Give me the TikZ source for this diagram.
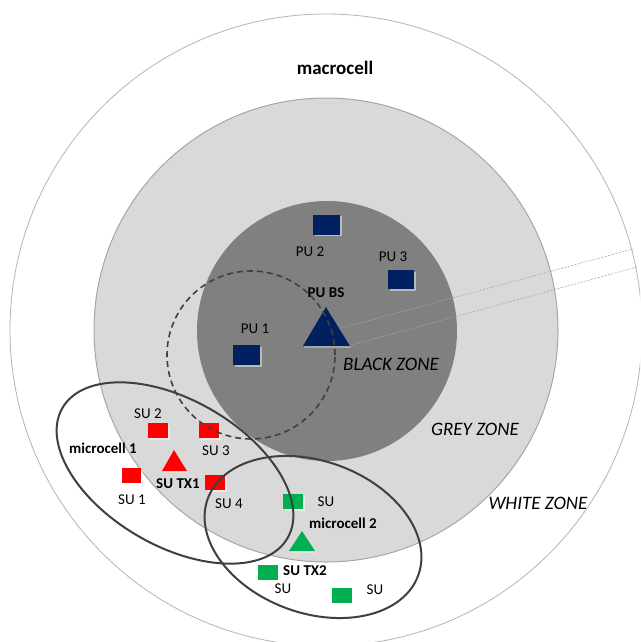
\documentclass[tikz,border=0pt]{standalone}
\usepackage{fontspec}
\setmainfont{Carlito}
\usetikzlibrary{shadows}
\definecolor{navy}{HTML}{002060}
\definecolor{sured}{HTML}{FF0000}
\definecolor{sugreen}{HTML}{00B050}
\definecolor{blackzone}{HTML}{808080}
\definecolor{greyzone}{HTML}{D9D9D9}
\definecolor{greyline}{HTML}{A6A6A6}
\definecolor{outerline}{HTML}{B4B4B4}
\definecolor{ellline}{HTML}{404040}
\begin{document}
\begin{tikzpicture}[x=1pt,y=-1pt,
  lbl/.style={font=\fontsize{15}{18}\selectfont, inner sep=0pt, text=black},
  blbl/.style={font=\fontsize{15}{18}\selectfont\bfseries, inner sep=0pt, text=black},
  ilbl/.style={font=\fontsize{19}{22}\selectfont\itshape, inner sep=0pt, text=black},
  tlbl/.style={font=\fontsize{19}{22}\selectfont\bfseries, inner sep=0pt, text=black},
  sqr/.style={rectangle, inner sep=0pt, draw=none, drop shadow={shadow xshift=1.5pt, shadow yshift=-1.5pt, fill=white, opacity=0.45}},
  tri/.style={draw=none, drop shadow={shadow xshift=1pt, shadow yshift=-1.5pt, fill=white, opacity=0.45}},
  ell/.style={draw=ellline, line width=2pt},
  beam/.style={draw=greyline, line width=0.6pt, dash pattern=on 2pt off 1.5pt}
]
\useasboundingbox (0,0) rectangle (640,642);
\clip (0,0) rectangle (640,642);
\fill[white] (0,0) rectangle (640,642);
% zones
\draw[draw=outerline, fill=white, line width=0.8pt] (326,330) circle[radius=316pt];
\draw[draw=greyline, fill=greyzone, line width=1pt] (326,330) circle[radius=232pt];
\fill[blackzone] (327,331) circle[radius=130pt];
% beam
\coordinate (b1s) at (338,329);
\coordinate (b1e) at (633,249);
\coordinate (b2s) at (348,346);
\coordinate (b2e) at (637,267);
\draw[beam] (b1s) -- (b1e);
\draw[beam] (b2s) -- (b2e);
% PU nodes
\node[sqr, fill=navy, minimum width=27pt, minimum height=20pt] (pu2) at (326.5,224.5) {};
\node[sqr, fill=navy, minimum width=26pt, minimum height=19pt] (pu3) at (401,279.5) {};
\node[sqr, fill=navy, minimum width=27pt, minimum height=20pt] (pu1) at (246.5,355) {};
\fill[navy, tri] (326,307) -- (350,346) -- (303,346) -- cycle;
% SU microcell 1
\node[sqr, fill=sured, minimum width=20pt, minimum height=15pt] (su2) at (158,430.5) {};
\node[sqr, fill=sured, minimum width=20pt, minimum height=15pt] (su3) at (209,430.5) {};
\node[sqr, fill=sured, minimum width=19pt, minimum height=15pt] (su1) at (131.5,475.5) {};
\node[sqr, fill=sured, minimum width=20pt, minimum height=15pt] (su4) at (215,482.5) {};
\fill[sured, tri] (174,450) -- (187,471) -- (162,471) -- cycle;
% SU microcell 2
\node[sqr, fill=sugreen, minimum width=20pt, minimum height=15pt] (g1) at (293,501.5) {};
\node[sqr, fill=sugreen, minimum width=20pt, minimum height=15pt] (g2) at (268,572.5) {};
\node[sqr, fill=sugreen, minimum width=20pt, minimum height=15pt] (g3) at (342,595.5) {};
\fill[sugreen, tri] (302,531) -- (315,551) -- (289,551) -- cycle;
% microcell ellipses
\begin{scope}[shift={(175,473)}, rotate=-30]
  \draw[ell] (0,0) ellipse[x radius=130pt, y radius=73pt];
\end{scope}
\begin{scope}[shift={(313,537)}, rotate=-20]
  \draw[ell] (0,0) ellipse[x radius=112pt, y radius=76pt];
\end{scope}
% dashed PU1 coverage
\draw[draw=ellline, line width=1.6pt, dash pattern=on 6pt off 4pt] (251,355) circle[radius=84pt];
% labels
\node[tlbl] (macro) at (335,68) {macrocell};
\node[lbl] (lpu2) at (310,252) {PU 2};
\node[lbl] (lpu3) at (393,257) {PU 3};
\node[blbl] (lpubs) at (326,293) {PU BS};
\node[lbl] (lpu1) at (255,329) {PU 1};
\node[ilbl] (lblack) at (391,364) {BLACK ZONE};
\node[ilbl] (lgrey) at (475,429) {GREY ZONE};
\node[ilbl] (lwhite) at (538,503) {WHITE ZONE};
\node[lbl] (lsu2) at (148,414) {SU 2};
\node[lbl] (lsu3) at (216,451) {SU 3};
\node[blbl] (lmc1) at (103,448) {microcell 1};
\node[lbl] (lsu1) at (132,500) {SU 1};
\node[blbl] (lsutx1) at (178,484) {SU TX1};
\node[lbl] (lsu4) at (229,504) {SU 4};
\node[lbl] (lsua) at (326,502) {SU};
\node[blbl] (lmc2) at (343,523) {microcell 2};
\node[blbl] (lsutx2) at (305,571) {SU TX2};
\node[lbl] (lsub) at (283,589) {SU};
\node[lbl] (lsuc) at (375,590) {SU};
\end{tikzpicture}
\end{document}
